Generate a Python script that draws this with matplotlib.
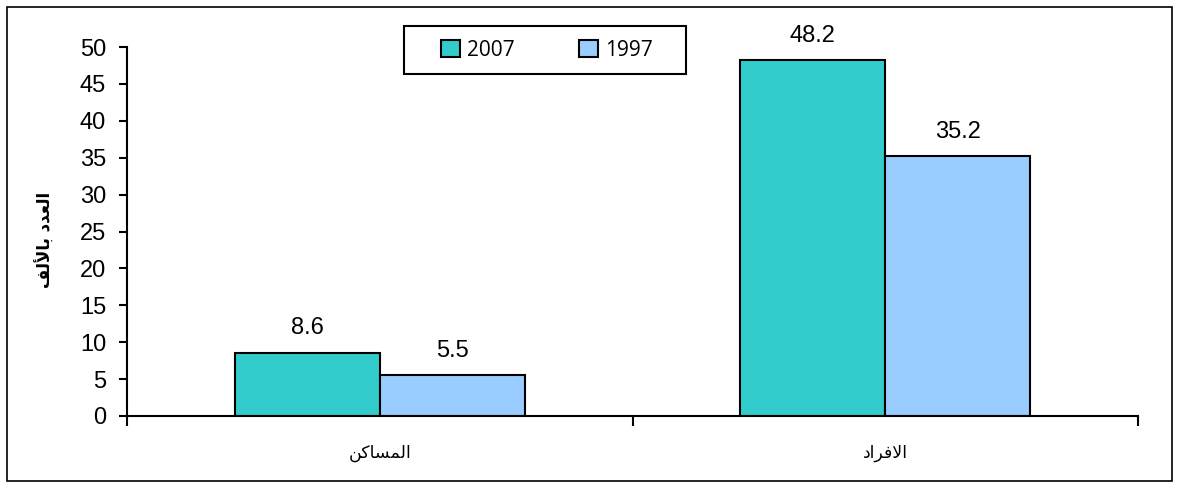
import matplotlib
matplotlib.use("Agg")
import matplotlib.pyplot as plt
from matplotlib.patches import Rectangle
from matplotlib.ticker import FixedLocator, NullFormatter
import numpy as np

# ---- data ----
categories = ["المساكن", "الافراد"]
series_names = ["2007", "1997"]
values_2007 = [8.6, 48.2]
values_1997 = [5.5, 35.2]
y_label = "العدد بالألف"
y_ticks = [0, 5, 10, 15, 20, 25, 30, 35, 40, 45, 50]

# ---- minimal Arabic shaping (matplotlib has no shaping engine) ----
FORMS = {  # iso, fin, ini, med
    'ا': (0xFE8D, 0xFE8E, None, None),
    'أ': (0xFE83, 0xFE84, None, None),
    'ب': (0xFE8F, 0xFE90, 0xFE91, 0xFE92),
    'د': (0xFEA9, 0xFEAA, None, None),
    'ر': (0xFEAD, 0xFEAE, None, None),
    'س': (0xFEB1, 0xFEB2, 0xFEB3, 0xFEB4),
    'ع': (0xFEC9, 0xFECA, 0xFECB, 0xFECC),
    'ف': (0xFED1, 0xFED2, 0xFED3, 0xFED4),
    'ك': (0xFED9, 0xFEDA, 0xFEDB, 0xFEDC),
    'ل': (0xFEDD, 0xFEDE, 0xFEDF, 0xFEE0),
    'م': (0xFEE1, 0xFEE2, 0xFEE3, 0xFEE4),
    'ن': (0xFEE5, 0xFEE6, 0xFEE7, 0xFEE8),
}
LAM_ALEF = {'ا': (0xFEFB, 0xFEFC), 'أ': (0xFEF7, 0xFEF8)}


def joins_left(ch):
    f = FORMS.get(ch)
    return f is not None and f[2] is not None


def shape(text):
    units = []
    i = 0
    while i < len(text):
        c = text[i]
        if c == 'ل' and i + 1 < len(text) and text[i + 1] in LAM_ALEF:
            units.append(('LA', text[i + 1]))
            i += 2
        else:
            units.append(('C', c))
            i += 1
    out = []
    for k, (kind, c) in enumerate(units):
        prev = units[k - 1] if k > 0 else None
        nxt = units[k + 1] if k + 1 < len(units) else None
        prev_joins = prev is not None and prev[0] == 'C' and joins_left(prev[1])
        if kind == 'LA':
            iso, fin = LAM_ALEF[c]
            out.append(chr(fin if prev_joins else iso))
            continue
        if c not in FORMS:
            out.append(c)
            continue
        iso, fin, ini, med = FORMS[c]
        next_is_letter = nxt is not None and (nxt[0] == 'LA' or nxt[1] in FORMS)
        can_left = ini is not None and next_is_letter
        if prev_joins and can_left:
            out.append(chr(med))
        elif prev_joins:
            out.append(chr(fin))
        elif can_left:
            out.append(chr(ini))
        else:
            out.append(chr(iso))
    return ''.join(reversed(out))


plt.rcParams['font.family'] = ['Liberation Sans', 'DejaVu Sans']

# ---- figure ----
W, H = 1180, 488
fig = plt.figure(figsize=(W / 100, H / 100), dpi=100)
fig.patch.set_facecolor("white")

ax = fig.add_axes([127 / W, 1 - 416 / H, (1138 - 127) / W, (416 - 47) / H])

x = np.arange(len(categories))
bw = 0.287
c2007 = "#33CCCC"
c1997 = "#99CCFF"
b1 = ax.bar(x - bw / 2, values_2007, bw, color=c2007, edgecolor="black", linewidth=1.5,
            label=series_names[0], zorder=3)
b2 = ax.bar(x + bw / 2, values_1997, bw, color=c1997, edgecolor="black", linewidth=1.5,
            label=series_names[1], zorder=3)

for bars, vals in ((b1, values_2007), (b2, values_1997)):
    for rect, v in zip(bars, vals):
        ax.annotate(f"{v:.1f}", (rect.get_x() + rect.get_width() / 2, v),
                    xytext=(0, 17.5), textcoords="offset points",
                    ha="center", va="center", fontsize=17)

ax.set_xlim(-0.5, len(categories) - 0.5)
ax.set_ylim(0, 50)
ax.set_yticks(y_ticks)
ax.set_yticklabels([str(t) for t in y_ticks], fontsize=17)
ax.tick_params(axis="y", length=6, width=1.5, direction="out", pad=9)

ax.set_xticks(x)
ax.set_xticklabels([shape(c) for c in categories], fontsize=12.5, family="DejaVu Sans")
ax.tick_params(axis="x", which="major", length=0, pad=20)
ax.xaxis.set_minor_locator(FixedLocator(np.arange(-0.5, len(categories), 1.0)))
ax.xaxis.set_minor_formatter(NullFormatter())
ax.tick_params(axis="x", which="minor", length=7, width=1.5, direction="out")

for s in ("top", "right"):
    ax.spines[s].set_visible(False)
for s in ("left", "bottom"):
    ax.spines[s].set_linewidth(1.5)
    ax.spines[s].set_zorder(4)

fig.text(45 / W, 1 - 240 / H, shape(y_label), rotation=90, ha="center", va="center",
         fontsize=12, fontweight="bold", family="DejaVu Sans")

# legend: content centred in a hand-drawn box
leg = fig.legend(handles=[b1, b2], labels=series_names, ncol=2,
                 bbox_to_anchor=(547 / W, 1 - 50 / H), loc="center",
                 frameon=False, prop={"family": "Open Sans", "size": 15},
                 handlelength=0.9, handleheight=0.9, handletextpad=0.35,
                 borderaxespad=0, borderpad=0, columnspacing=3.1)
fig.patches.append(Rectangle((404 / W, 1 - 74 / H), (686 - 404) / W, (74 - 26) / H,
                             transform=fig.transFigure, fill=False,
                             edgecolor="black", linewidth=1.5))

fig.patches.append(Rectangle((7 / W, 7 / H), (1172 - 7) / W, (481 - 7) / H,
                             transform=fig.transFigure, fill=False,
                             edgecolor="black", linewidth=1.2))

fig.savefig("out.png", dpi=100, facecolor="white")
